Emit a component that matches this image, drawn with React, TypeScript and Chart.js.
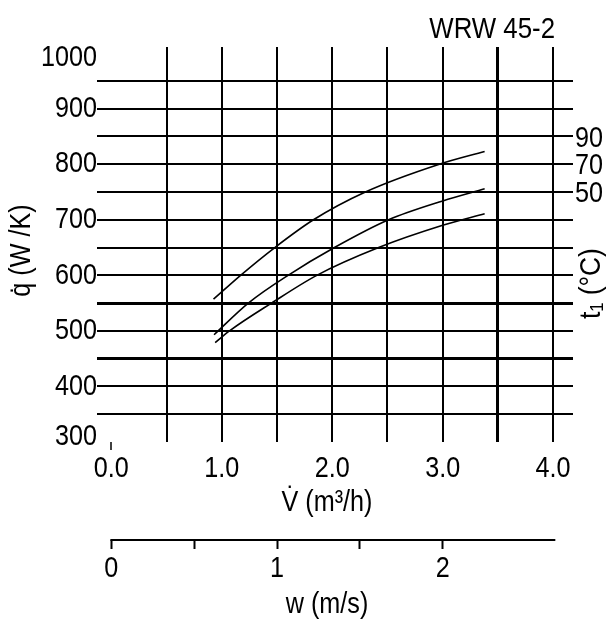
import React, { useEffect, useRef } from "react";
import { Chart, registerables } from "chart.js";

Chart.register(...registerables);

// ---- data ----
const SERIES_NAMES = ["90", "70", "50"];
const V_90 = [0.925, 1.17, 1.48, 1.83, 2.3, 2.97, 3.38];
const Q_90 = [557, 600, 650, 700, 750, 800, 823];
const V_70 = [0.93, 1.24, 1.6, 2.02, 2.51, 3.0, 3.38];
const Q_70 = [493, 550, 600, 650, 700, 734, 756];
const V_50 = [0.94, 1.07, 1.45, 1.86, 2.42, 3.0, 3.38];
const Q_50 = [479, 500, 550, 600, 650, 690, 711];

// axis ticks / labels
const V_TICKS = [0, 0.5, 1, 1.5, 2, 2.5, 3, 3.5, 4];
const Q_TICKS = [300, 350, 400, 450, 500, 550, 600, 650, 700, 750, 800, 850, 900, 950, 1000];
const T_TICK_POS = [850, 800, 750];
const T_LABELS = ["90", "70", "50"];
const W_TICKS = [0, 0.5, 1, 1.5, 2];
const W_AXIS_END = 2.68;
const V_PER_W = 1.5; // 1 m/s corresponds to 1.5 m3/h on the drawing
const THICK_V = [3.5];
const THICK_Q = [450, 550];

const X_MIN = -0.13;
const X_MAX = 4.18;
const Y_MIN = 300;
const Y_MAX = 1011;

const TITLE = "WRW 45-2";
const Y_TITLE = "q\u0307 (W /K)";
const T_TITLE = "t\u2081 (\u00B0C)";
const X_TITLE = "V\u0307 (m\u00B3/h)";
const W_TITLE = "w (m/s)";

const FONT = '"Liberation Sans", Arial, sans-serif';
const NARROW = 0.84; // horizontal squeeze to imitate a narrow face
const BLACK = "#000";
const NONE = "rgba(0,0,0,0)";

const fmtV = (v: number) => (Number.isInteger(v) ? v.toFixed(1) : "");
const fmtQ = (v: number) => (v % 100 === 0 ? String(v) : "");
const fmtW = (v: number) => (Number.isInteger(v) ? String(v) : "");
const fmtT = (v: number) => {
  const i = T_TICK_POS.indexOf(v);
  return i >= 0 ? T_LABELS[i] : "";
};

const pts = (xs: number[], ys: number[]) => xs.map((x, i) => ({ x, y: ys[i] }));

function text(
  ctx: CanvasRenderingContext2D,
  s: string,
  x: number,
  y: number,
  align: CanvasTextAlign,
  baseline: CanvasTextBaseline,
  size = 30,
  sx = NARROW,
  rot = 0
) {
  ctx.save();
  ctx.translate(x, y);
  if (rot) ctx.rotate(rot);
  ctx.scale(sx, 1);
  ctx.font = `${size}px ${FONT}`;
  ctx.textAlign = align;
  ctx.textBaseline = baseline;
  ctx.fillText(s, 0, 0);
  ctx.restore();
}

const annotate = {
  id: "annotate",
  afterDraw(chart: any) {
    const { ctx, chartArea, scales } = chart;
    ctx.save();
    ctx.fillStyle = BLACK;
    ctx.strokeStyle = BLACK;

    // tick labels
    const { x, y, y2, x2 } = scales;
    for (const t of y.ticks) {
      const s = fmtQ(t.value);
      if (!s) continue;
      const py = Math.min(Math.max(y.getPixelForValue(t.value), chartArea.top + 11), chartArea.bottom - 5);
      text(ctx, s, y.right, py, "right", "middle");
    }
    for (const t of y2.ticks) {
      const s = fmtT(t.value);
      if (!s) continue;
      text(ctx, s, y2.left + 2, y2.getPixelForValue(t.value) + 2, "left", "middle");
    }
    for (const t of x.ticks) {
      const s = fmtV(t.value);
      if (!s) continue;
      text(ctx, s, x.getPixelForValue(t.value), chartArea.bottom + 27, "center", "middle");
    }
    for (const t of x2.ticks) {
      const s = fmtW(t.value);
      if (!s) continue;
      text(ctx, s, x2.getPixelForValue(t.value), x2.top + 29, "center", "middle");
    }

    // title
    text(ctx, TITLE, chartArea.right - 18, 38, "right", "alphabetic", 30, 0.86);

    const midY = (chartArea.top + chartArea.bottom) / 2;
    text(ctx, Y_TITLE, 22, midY + 6, "center", "middle", 30, NARROW, -Math.PI / 2);
    text(ctx, T_TITLE, 592, midY + 39, "center", "middle", 30, 0.88, -Math.PI / 2);

    const midX = (chartArea.left + chartArea.right) / 2 - 8;
    text(ctx, X_TITLE, midX, 511, "center", "alphabetic");
    text(ctx, W_TITLE, midX, 613, "center", "alphabetic");

    // secondary axis line
    ctx.lineWidth = 2;
    ctx.beginPath();
    ctx.moveTo(x2.getPixelForValue(0) - 1, x2.top);
    ctx.lineTo(x2.getPixelForValue(W_AXIS_END), x2.top);
    ctx.stroke();
    ctx.restore();
  },
};

export default function App() {
  const ref = useRef<HTMLCanvasElement | null>(null);
  useEffect(() => {
    document.body.style.margin = "0";
    Chart.defaults.font.family = FONT;
    const canvas = ref.current!;
    const ds = (name: string, xs: number[], ys: number[]) => ({
      label: name,
      data: pts(xs, ys),
      showLine: true,
      borderColor: BLACK,
      borderWidth: 1.6,
      pointRadius: 0,
      cubicInterpolationMode: "monotone" as const,
      xAxisID: "x",
      yAxisID: "y",
    });
    const chart = new Chart(canvas, {
      type: "scatter",
      data: {
        datasets: [
          ds(SERIES_NAMES[0], V_90, Q_90),
          ds(SERIES_NAMES[1], V_70, Q_70),
          ds(SERIES_NAMES[2], V_50, Q_50),
        ],
      },
      options: {
        responsive: false,
        animation: false,
        layout: { padding: { top: 47, left: 0, right: 0, bottom: 0 } },
        plugins: { legend: { display: false }, tooltip: { enabled: false }, title: { display: false } },
        scales: {
          x: {
            type: "linear",
            position: "bottom",
            weight: 0,
            min: X_MIN,
            max: X_MAX,
            afterBuildTicks: (s: any) => {
              s.ticks = V_TICKS.map((v) => ({ value: v }));
            },
            afterFit: (s: any) => {
              s.height = 98;
            },
            border: { display: false },
            grid: {
              color: (c: any) => (c.tick && c.tick.value === 0 ? NONE : BLACK),
              lineWidth: (c: any) => (c.tick && THICK_V.includes(c.tick.value) ? 3 : 2),
              drawTicks: true,
              tickLength: 8,
              tickWidth: 1.5,
              tickColor: (c: any) => (c.tick && c.tick.value === 0 ? BLACK : NONE),
            },
            ticks: { display: false, autoSkip: false },
          },
          x2: {
            type: "linear",
            position: "bottom",
            weight: 1,
            min: X_MIN / V_PER_W,
            max: X_MAX / V_PER_W,
            afterBuildTicks: (s: any) => {
              s.ticks = W_TICKS.map((v) => ({ value: v }));
            },
            afterFit: (s: any) => {
              s.height = 82;
            },
            border: { display: false },
            grid: {
              drawOnChartArea: false,
              drawTicks: true,
              tickLength: 9,
              tickWidth: 2,
              tickColor: BLACK,
            },
            ticks: { display: false, autoSkip: false },
          },
          y: {
            type: "linear",
            position: "left",
            min: Y_MIN,
            max: Y_MAX,
            afterBuildTicks: (s: any) => {
              s.ticks = Q_TICKS.map((v) => ({ value: v }));
            },
            afterFit: (s: any) => {
              s.width = 97;
            },
            border: { display: false },
            grid: {
              color: (c: any) =>
                c.tick && (c.tick.value === Q_TICKS[0] || c.tick.value === Q_TICKS[Q_TICKS.length - 1]) ? NONE : BLACK,
              lineWidth: (c: any) => (c.tick && THICK_Q.includes(c.tick.value) ? 3 : 2),
              drawTicks: false,
            },
            ticks: { display: false, autoSkip: false },
          },
          y2: {
            type: "linear",
            position: "right",
            min: Y_MIN,
            max: Y_MAX,
            afterBuildTicks: (s: any) => {
              s.ticks = T_TICK_POS.map((v) => ({ value: v }));
            },
            afterFit: (s: any) => {
              s.width = 36;
            },
            border: { display: false },
            grid: { drawOnChartArea: false, drawTicks: false },
            ticks: { display: false, autoSkip: false },
          },
        },
      },
      plugins: [annotate],
    });
    return () => chart.destroy();
  }, []);
  return (
    <div style={{ width: 609, height: 622, background: "#fff" }}>
      <canvas ref={ref} width={609} height={622} style={{ width: 609, height: 622, display: "block" }} />
    </div>
  );
}
